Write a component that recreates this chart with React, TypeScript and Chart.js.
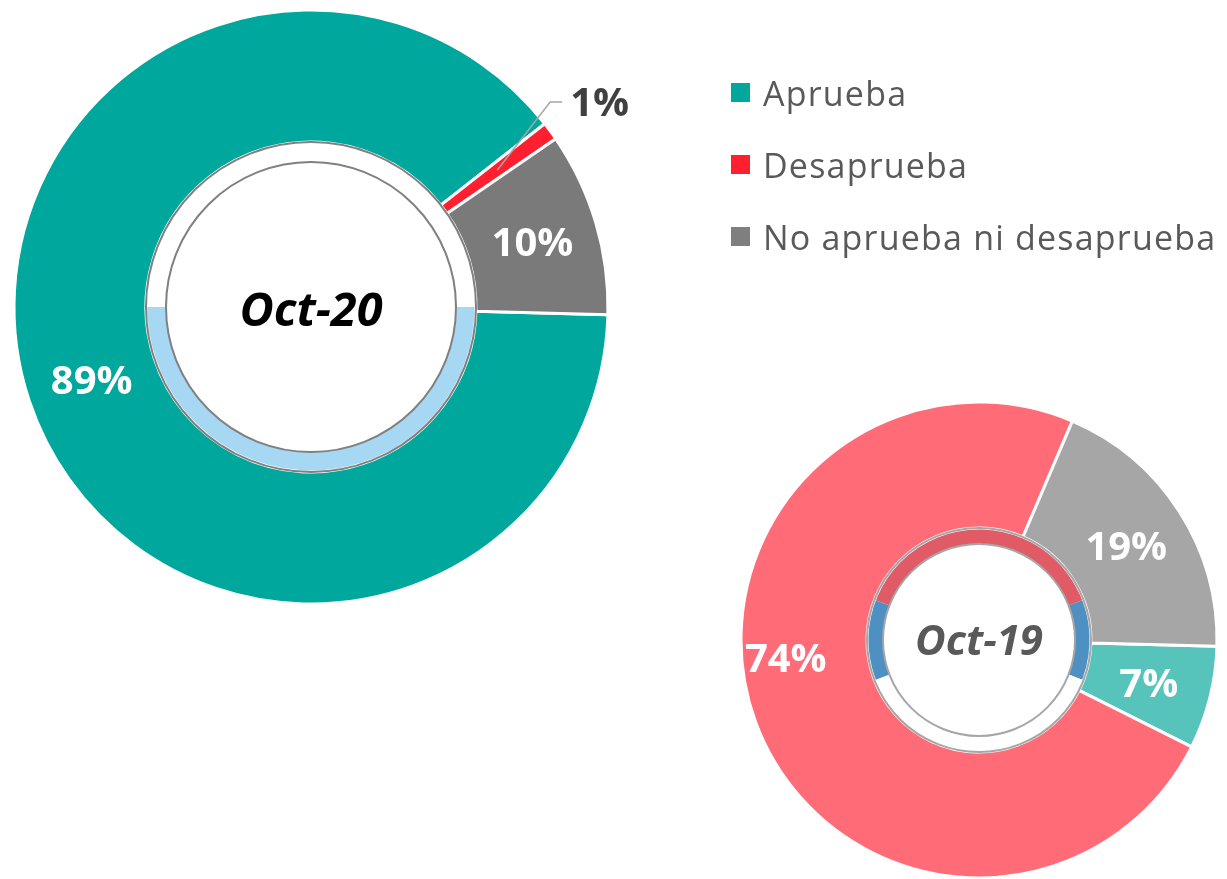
import React, { useEffect, useRef } from "react";
import { Chart, registerables } from "chart.js";
Chart.register(...registerables);

// ---- data ----
const categories = ["Aprueba", "Desaprueba", "No aprueba ni desaprueba"];
const oct20Values = [89, 1, 10];
const oct19Values = [7, 74, 19];
const periodLabels = ["Oct-20", "Oct-19"];
// decorative inner rings (arc sizes in degrees)
const oct20RingValues = [180, 180];
const oct19RingValues = [138, 42, 138, 42];

// ---- styles ----
const oct20Colors = ["#00A79D", "#FF1F2F", "#7A7A7A"];
const oct19Colors = ["#57C4BB", "#FF6B77", "#A6A6A6"];
const legendColors = ["#00A79D", "#FF1F2F", "#7F7F7F"];
const oct20RingColors = ["#FFFFFF", "#A6D8F3"];
const oct19RingColors = ["#E05B65", "#4F90C2", "#FFFFFF", "#4F90C2"];

const W = 1227;
const H = 879;
const FONT = "'Open Sans', 'Noto Sans', sans-serif";

type Spec = {
  values: number[];
  colors: string[];
  ringValues: number[];
  ringColors: string[];
  ringRotation: number;
  rotation: number;
  cx: number;
  cy: number;
  radius: number;
  ringOuter: number;
  ringInner: number;
  centerText: string;
  centerFont: string;
  centerColor: string;
  centerDy: number;
  ringStroke: string;
  ringStrokeWidth: number;
  labelFont: string;
  labelColors: string[];
  labelOutside: boolean[];
  labelAngleShift: number[];
  labelRadiusShift: number[];
};

const decorPlugin = {
  id: "decor",
  afterDatasetsDraw(chart: any) {
    const s: Spec = chart.options.plugins.decor.spec;
    const ctx = chart.ctx;
    const meta0 = chart.getDatasetMeta(0);
    const meta1 = chart.getDatasetMeta(1);
    const a1 = meta1.data[0] as any;
    const x = a1.x;
    const y = a1.y;
    ctx.save();
    // gray outlines of the inner ring
    ctx.strokeStyle = s.ringStroke;
    ctx.lineWidth = s.ringStrokeWidth;
    [a1.outerRadius, a1.innerRadius].forEach((r: number) => {
      ctx.beginPath();
      ctx.arc(x, y, r, 0, Math.PI * 2);
      ctx.stroke();
    });
    // center text
    ctx.font = s.centerFont;
    ctx.fillStyle = s.centerColor;
    ctx.textAlign = "center";
    ctx.textBaseline = "alphabetic";
    ctx.fillText(s.centerText, x, y + s.centerDy);
    // value labels
    ctx.font = s.labelFont;
    const fontPx = parseFloat(s.labelFont.match(/(\d+)px/)![1]);
    meta0.data.forEach((arc: any, i: number) => {
      const p = arc.getProps(["startAngle", "endAngle", "innerRadius", "outerRadius", "x", "y"], true);
      const mid = (p.startAngle + p.endAngle) / 2 + (s.labelAngleShift[i] * Math.PI) / 180;
      const txt = s.values[i] + "%";
      ctx.fillStyle = s.labelColors[i];
      if (s.labelOutside[i]) {
        const r0 = (p.innerRadius + p.outerRadius) / 2;
        const midA = (p.startAngle + p.endAngle) / 2;
        const sx = p.x + Math.cos(midA) * r0;
        const sy = p.y + Math.sin(midA) * r0;
        const r1 = p.outerRadius + 18;
        const ex = p.x + Math.cos(mid) * r1;
        const ey = p.y + Math.sin(mid) * r1;
        ctx.strokeStyle = "#A6A6A6";
        ctx.lineWidth = 1.5;
        ctx.beginPath();
        ctx.moveTo(sx, sy);
        ctx.lineTo(ex, ey);
        ctx.lineTo(ex + 12, ey);
        ctx.stroke();
        ctx.textAlign = "left";
        ctx.fillText(txt, ex + 20, ey + fontPx * 0.36);
      } else {
        const r = (p.innerRadius + p.outerRadius) / 2 + s.labelRadiusShift[i];
        const lx = p.x + Math.cos(mid) * r;
        const ly = p.y + Math.sin(mid) * r;
        ctx.textAlign = "center";
        ctx.fillText(txt, lx, ly + fontPx * 0.36);
      }
    });
    ctx.restore();
  },
};

function Donut({ spec }: { spec: Spec }) {
  const ref = useRef<HTMLCanvasElement>(null);
  useEffect(() => {
    const s = spec;
    const padLeft = Math.max(0, 2 * s.cx - W);
    const padRight = Math.max(0, W - 2 * s.cx);
    const padTop = Math.max(0, 2 * s.cy - H);
    const padBottom = Math.max(0, H - 2 * s.cy);
    const chart = new Chart(ref.current!, {
      type: "doughnut",
      data: {
        labels: categories,
        datasets: [
          {
            data: s.values,
            backgroundColor: s.colors,
            borderColor: "#FFFFFF",
            borderWidth: 3,
            rotation: s.rotation,
            weight: s.radius - s.ringOuter,
          } as any,
          {
            data: s.ringValues,
            backgroundColor: s.ringColors,
            borderWidth: 0,
            rotation: s.ringRotation,
            weight: s.ringOuter - s.ringInner,
          } as any,
        ],
      },
      options: {
        responsive: false,
        maintainAspectRatio: false,
        animation: false,
        events: [],
        radius: s.radius,
        cutout: (s.ringInner / s.radius) * 100 + "%",
        layout: { padding: { left: padLeft, right: padRight, top: padTop, bottom: padBottom } },
        plugins: {
          legend: { display: false },
          tooltip: { enabled: false },
          decor: { spec: s },
        } as any,
      } as any,
      plugins: [decorPlugin],
    });
    return () => chart.destroy();
  }, [spec]);
  return (
    <canvas
      ref={ref}
      width={W}
      height={H}
      style={{ position: "absolute", left: 0, top: 0, width: W, height: H }}
    />
  );
}

const oct20Spec: Spec = {
  values: oct20Values,
  colors: oct20Colors,
  ringValues: oct20RingValues,
  ringColors: oct20RingColors,
  ringRotation: -90,
  rotation: 91.5,
  cx: 311,
  cy: 307,
  radius: 297,
  ringOuter: 165,
  ringInner: 145,
  centerText: periodLabels[0],
  centerFont: `italic bold 47px ${FONT}`,
  centerColor: "#000000",
  centerDy: 19,
  ringStroke: "#808080",
  ringStrokeWidth: 2,
  labelFont: `bold 40px ${FONT}`,
  labelColors: ["#FFFFFF", "#404040", "#FFFFFF"],
  labelOutside: [false, true, false],
  labelAngleShift: [0, -4.3, 0],
  labelRadiusShift: [0, 0, 0],
};

const oct19Spec: Spec = {
  values: oct19Values,
  colors: oct19Colors,
  ringValues: oct19RingValues,
  ringColors: oct19RingColors,
  ringRotation: -69,
  rotation: 91.5,
  cx: 979,
  cy: 640,
  radius: 238,
  ringOuter: 112,
  ringInner: 96,
  centerText: periodLabels[1],
  centerFont: `italic bold 42px ${FONT}`,
  centerColor: "#595959",
  centerDy: 15,
  ringStroke: "#A6A6A6",
  ringStrokeWidth: 2,
  labelFont: `bold 40px ${FONT}`,
  labelColors: ["#FFFFFF", "#FFFFFF", "#FFFFFF"],
  labelOutside: [false, false, false],
  labelAngleShift: [0, 15, 0],
  labelRadiusShift: [0, 19, 0],
};

export default function App() {
  return (
    <div
      style={{
        position: "absolute",
        left: 0,
        top: 0,
        width: W,
        height: H,
        overflow: "hidden",
        background: "#FFFFFF",
      }}
    >
      <Donut spec={oct20Spec} />
      <Donut spec={oct19Spec} />
      {categories.map((c, i) => (
        <React.Fragment key={c}>
          <div
            style={{
              position: "absolute",
              left: 731,
              top: 83 + i * 72,
              width: 19,
              height: 19,
              background: legendColors[i],
            }}
          />
          <div
            style={{
              position: "absolute",
              left: 763,
              top: 73 + i * 72,
              height: 40,
              lineHeight: "40px",
              fontFamily: FONT,
              fontSize: 34,
              letterSpacing: 1.2,
              color: "#595959",
              whiteSpace: "nowrap",
            }}
          >
            {c}
          </div>
        </React.Fragment>
      ))}
    </div>
  );
}
